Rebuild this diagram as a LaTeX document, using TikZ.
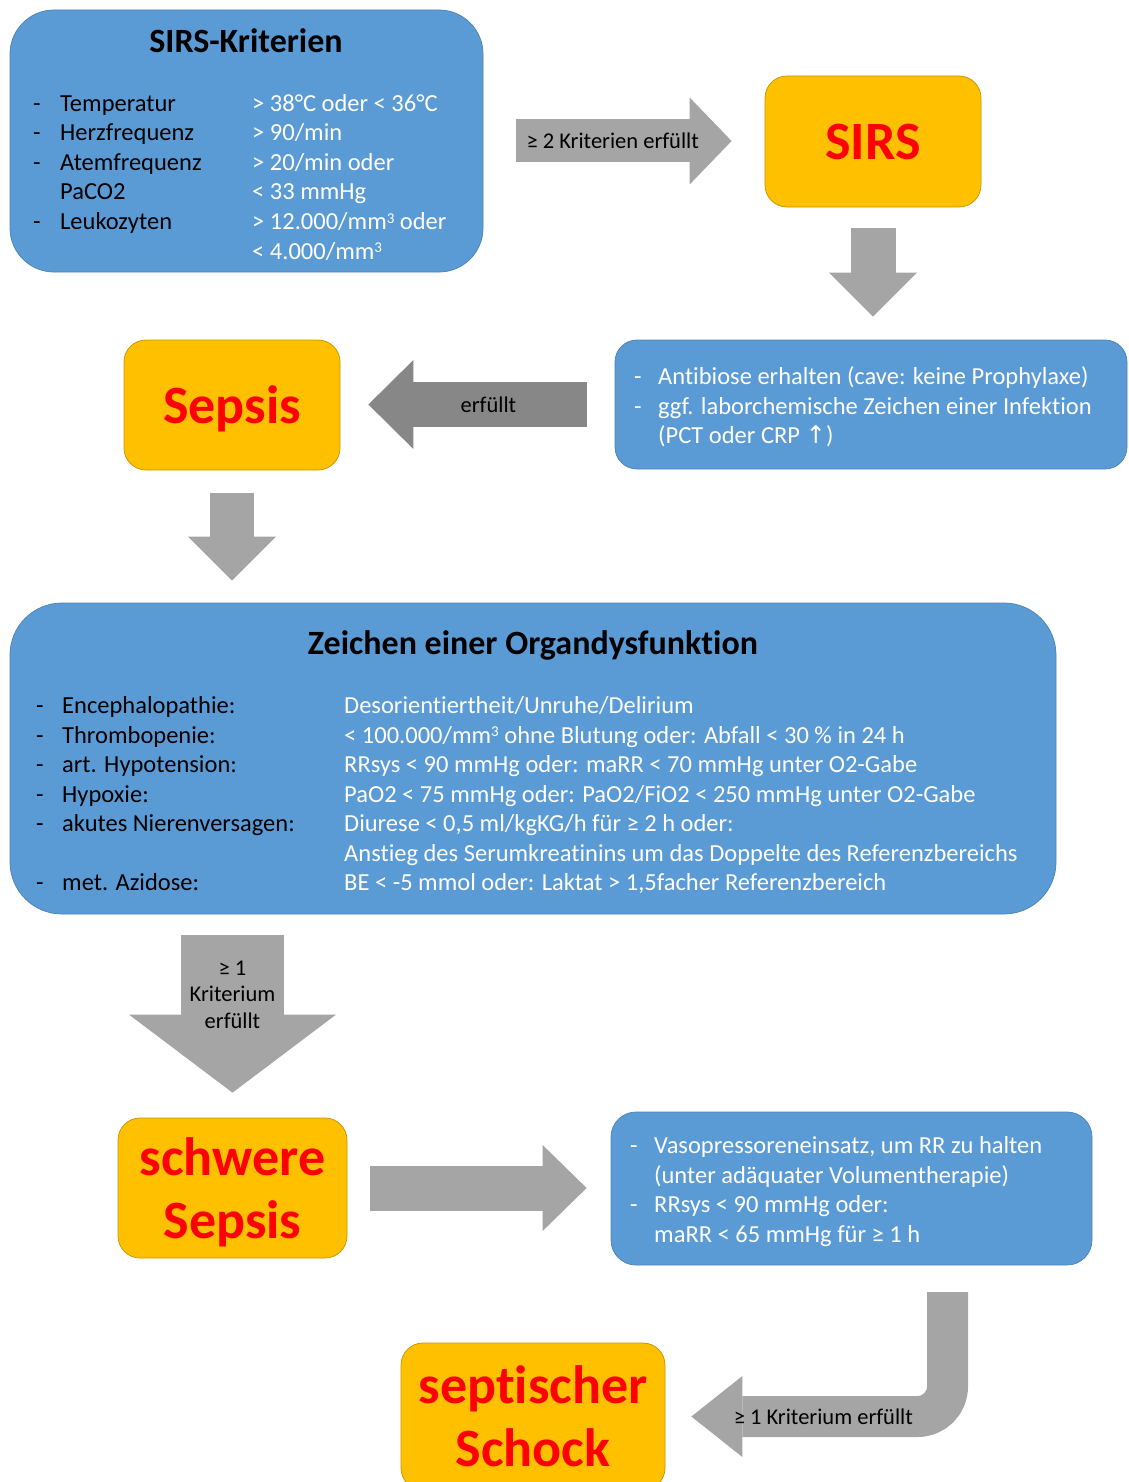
\documentclass[tikz,border=0pt]{standalone}
\usepackage{fontspec}
\setmainfont{Carlito}[Ligatures=NoCommon]
\newfontfamily\arrowfont{DejaVu Sans}
\usetikzlibrary{arrows.meta}

\definecolor{boxblue}{RGB}{91,155,213}
\definecolor{boxorange}{RGB}{255,192,0}
\definecolor{arrowgray}{RGB}{165,165,165}
\definecolor{arrowdark}{RGB}{135,135,135}
\definecolor{alarmred}{RGB}{255,0,0}
\newcommand{\cubesup}{\raisebox{6.5pt}{\fontsize{15}{15}\selectfont 3}}

\begin{document}
\begin{tikzpicture}[x=1pt, y=-1pt,
  bluebox/.style={rectangle, rounded corners=#1, fill=boxblue, draw=boxblue!85!black, line width=0.75pt, inner sep=0pt},
  orangebox/.style={rectangle, rounded corners=22pt, fill=boxorange, draw=boxorange!78!black, line width=0.75pt, inner sep=0pt, align=center, text=alarmred, text depth=0pt, font=\fontsize{54}{63}\selectfont\bfseries},
  head/.style={font=\fontsize{34}{40}\selectfont\bfseries, text=black, inner sep=0pt, anchor=base},
  lab/.style={font=\fontsize{24.5}{29.5}\selectfont, text=black, inner sep=0pt, anchor=base west},
  val/.style={lab, text=white},
  arrowtxt/.style={font=\fontsize{22.5}{26.5}\selectfont, text=black, align=center, inner sep=0pt},
  blockarrow/.style n args={3}{color=arrowgray, line width=#1, -{Triangle[width=#2, length=#3, line width=0pt]}}]
\useasboundingbox (0,0) rectangle (1128,1482);

% boxes
\node[bluebox=44pt, minimum width=473pt, minimum height=262pt] (krit) at (246.5,141) {};
\node[orangebox, minimum width=216pt, minimum height=131pt] (sirs) at (873,141.5) {SIRS};
\node[bluebox=22pt, minimum width=512pt, minimum height=129pt] (antibio) at (871,404.5) {};
\node[orangebox, minimum width=216pt, minimum height=130pt] (sepsis) at (232,405) {Sepsis};
\node[bluebox=52pt, minimum width=1046pt, minimum height=311pt] (organ) at (533,758.5) {};
\node[orangebox, minimum width=229pt, minimum height=140pt] (schwer) at (232.5,1188) {schwere\\Sepsis};
\node[bluebox=25pt, minimum width=481pt, minimum height=153pt] (vaso) at (851.5,1188.5) {};
\node[orangebox, minimum width=264pt, minimum height=147pt] (schock) at (533,1416.5) {septischer\\Schock};

% SIRS-Kriterien
\node[head] (kt) at (246,53) {SIRS-Kriterien};
\foreach \y [count=\i] in {111.5,141,170.5,229.5}
  \node[lab] (kdash\i) at (33,\y) {-};
\node[lab] (k1) at (60,111.5) {Temperatur};
\node[lab] (k2) at (60,141) {Herzfrequenz};
\node[lab] (k3) at (60,170.5) {Atemfrequenz};
\node[lab] (k4) at (60,200) {PaCO2};
\node[lab] (k5) at (60,229.5) {Leukozyten};
\node[val] (kv1) at (252,111.5) {> 38°C oder < 36°C};
\node[val] (kv2) at (252,141) {> 90/min};
\node[val] (kv3) at (252,170.5) {> 20/min oder};
\node[val] (kv4) at (252,200) {< 33 mmHg};
\node[val] (kv5) at (252,229.5) {> 12.000/mm\cubesup{} oder};
\node[val] (kv6) at (252,259) {< 4.000/mm\cubesup};

% Infektion
\node[val] (idash1) at (634,384.5) {-};
\node[val] (idash2) at (634,414) {-};
\node[val] (i1) at (658,384.5) {Antibiose erhalten (cave: keine Prophylaxe)};
\node[val] (i2) at (658,414) {ggf. laborchemische Zeichen einer Infektion};
\node[val] (i3) at (658,443.5) {(PCT oder CRP {\arrowfont ↑})};

% Organdysfunktion
\node[head] (ot) at (533,654) {Zeichen einer Organdysfunktion};
\foreach \y [count=\i] in {713.5,743,772.5,802,831.5,890.5}
  \node[lab] (odash\i) at (36,\y) {-};
\node[lab] (o1) at (62,713.5) {Encephalopathie:};
\node[lab] (o2) at (62,743) {Thrombopenie:};
\node[lab] (o3) at (62,772.5) {art. Hypotension:};
\node[lab] (o4) at (62,802) {Hypoxie:};
\node[lab] (o5) at (62,831.5) {akutes Nierenversagen:};
\node[lab] (o6) at (62,890.5) {met. Azidose:};
\node[val] (ov1) at (344,713.5) {Desorientiertheit/Unruhe/Delirium};
\node[val] (ov2) at (344,743) {< 100.000/mm\cubesup{} ohne Blutung oder: Abfall < 30 \% in 24 h};
\node[val] (ov3) at (344,772.5) {RRsys < 90 mmHg oder: maRR < 70 mmHg unter O2-Gabe};
\node[val] (ov4) at (344,802) {PaO2 < 75 mmHg oder: PaO2/FiO2 < 250 mmHg unter O2-Gabe};
\node[val] (ov5) at (344,831.5) {Diurese < 0,5 ml/kgKG/h für ≥ 2 h oder:};
\node[val] (ov6) at (344,861) {Anstieg des Serumkreatinins um das Doppelte des Referenzbereichs};
\node[val] (ov7) at (344,890.5) {BE < -5 mmol oder: Laktat > 1,5facher Referenzbereich};

% Schock
\node[val] (sdash1) at (630,1153.5) {-};
\node[val] (sdash2) at (630,1212.5) {-};
\node[val] (s1) at (654,1153.5) {Vasopressoreneinsatz, um RR zu halten};
\node[val] (s2) at (654,1183) {(unter adäquater Volumentherapie)};
\node[val] (s3) at (654,1212.5) {RRsys < 90 mmHg oder:};
\node[val] (s4) at (654,1242) {maRR < 65 mmHg für ≥ 1 h};

% arrows
\draw[blockarrow={43pt}{87pt}{42pt}, shorten <=33pt, shorten >=33pt] (krit.east) -- node[arrowtxt, pos=0.46] (a1) {≥ 2 Kriterien erfüllt} (krit.east -| sirs.west);
\draw[blockarrow={45pt}{88pt}{44pt}, shorten <=21pt, shorten >=23pt] (sirs.south) -- (sirs.south |- antibio.north);
\draw[blockarrow={45pt}{89pt}{45pt}, color=arrowdark, shorten <=28pt, shorten >=28pt] (antibio.west) -- node[arrowtxt, pos=0.46] (a3) {erfüllt} (antibio.west -| sepsis.east);
\draw[blockarrow={44pt}{88pt}{44pt}, shorten <=23pt, shorten >=22pt] (sepsis.south) -- (sepsis.south |- organ.north);
\draw[blockarrow={103pt}{207pt}{78pt}, shorten <=21pt, shorten >=25pt] (schwer.north |- organ.south) -- node[arrowtxt, pos=0.395] (a5) {≥ 1\\Kriterium\\erfüllt} (schwer.north);
\draw[blockarrow={45pt}{86pt}{44pt}, shorten <=23pt, shorten >=24pt] (schwer.east) -- (schwer.east -| vaso.west);
\coordinate (bend) at (947.5,1292);
\draw[blockarrow={41pt}{81pt}{51pt}, rounded corners=30pt, shorten >=26pt] (bend) |- node[arrowtxt, pos=0.72] (a7) {≥ 1 Kriterium erfüllt} (schock.east);
\end{tikzpicture}
\end{document}
